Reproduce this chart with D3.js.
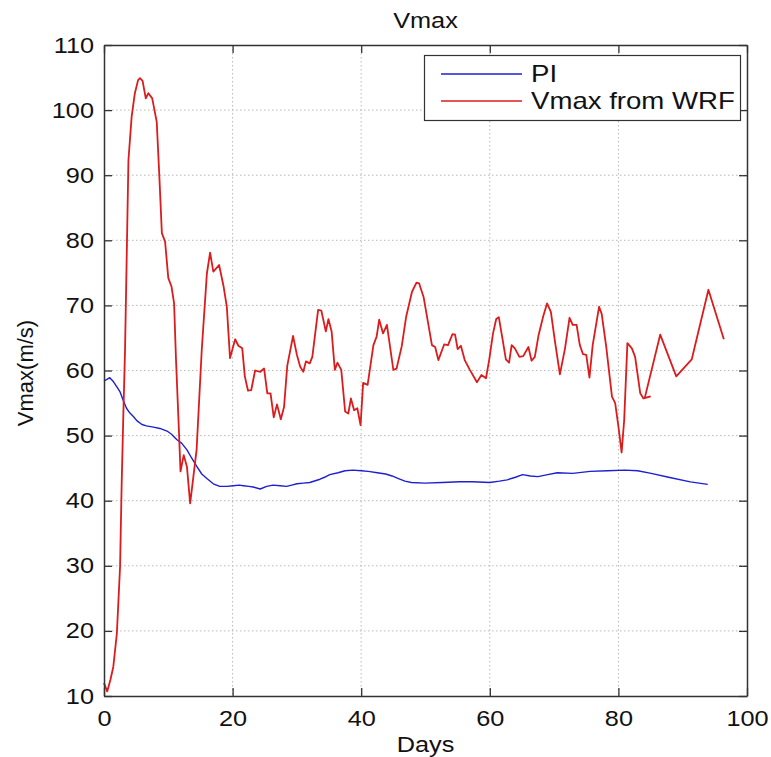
<!DOCTYPE html>
<html>
<head>
<meta charset="utf-8">
<script src="https://cdn.jsdelivr.net/npm/d3@7"></script>
<style>
  html, body { margin: 0; padding: 0; background: #fff; }
  svg { display: block; }
  text { font-family: "Liberation Sans", Arial, Helvetica, sans-serif; fill: #111; }
</style>
</head>
<body>
<svg id="chart" width="771" height="757"></svg>
<script>
// Potential intensity (PI) over the run, in days
const piDays = [0, 0.4, 0.9, 1.45, 2.0, 2.5, 3.0, 3.5, 4.0, 4.6, 5.1, 5.9, 6.6, 7.7, 8.7, 9.8, 10.5, 11.3, 12.1, 12.9,
  13.6, 14.4, 15.2, 16.0, 17.0, 18.0, 19.1, 20.1, 21.0, 21.7, 22.5, 23.2, 24.3, 25.3, 26.3, 27.4, 28.4, 29.2, 30.0, 31.0,
  32.0, 33.6, 34.3, 35.1, 36.4, 37.5, 38.7, 40.0, 41.1, 42.5, 43.8, 44.8, 45.8, 46.8, 47.8, 49.9, 52.6, 55.3, 57.3, 60.0,
  61.5, 62.7, 64.0, 65.1, 66.3, 67.5, 69.0, 70.5, 72.9, 75.6, 78.3, 81.0, 83.0, 85.1, 87.8, 91.2, 93.9];
const piVals = [58.4, 58.6, 58.9, 58.3, 57.5, 56.7, 55.4, 54.2, 53.5, 52.9, 52.3, 51.7, 51.5, 51.3, 51.1, 50.7, 50.2, 49.4, 48.8, 47.8,
  46.6, 45.3, 44.1, 43.4, 42.6, 42.2, 42.2, 42.3, 42.4, 42.3, 42.2, 42.1, 41.8, 42.2, 42.4, 42.3, 42.2, 42.4, 42.6, 42.7,
  42.8, 43.3, 43.6, 44.0, 44.3, 44.6, 44.7, 44.6, 44.5, 44.3, 44.1, 43.8, 43.4, 43.0, 42.8, 42.7, 42.8, 42.9, 42.9, 42.8,
  43.0, 43.2, 43.6, 44.0, 43.8, 43.7, 44.0, 44.3, 44.2, 44.5, 44.6, 44.7, 44.6, 44.2, 43.6, 42.9, 42.5];

// Maximum wind speed simulated by WRF
const wrfDays = [0, 0.5, 1.0, 1.45, 2.0, 2.5, 2.75, 3.0, 3.27, 3.8, 4.3, 4.8, 5.3, 5.6, 6.0, 6.5, 6.9, 7.5, 8.2, 8.6,
  9.0, 9.5, 10.0, 10.5, 10.9, 11.2, 11.6, 11.9, 12.4, 12.9, 13.4, 13.9, 14.4, 15.2, 16.0, 16.5, 17.0, 17.9, 18.6, 19.1,
  19.6, 20.4, 20.9, 21.5, 21.9, 22.4, 22.9, 23.5, 24.3, 24.9, 25.4, 25.9, 26.4, 26.9, 27.5, 28.0, 28.5, 29.4, 30.0, 30.5,
  31.0, 31.4, 32.0, 32.4, 33.3, 33.8, 34.5, 34.9, 35.4, 35.9, 36.3, 36.9, 37.5, 38.0, 38.4, 38.9, 39.4, 39.9, 40.3, 41.0,
  41.9, 42.4, 42.8, 43.4, 44.0, 45.0, 45.5, 46.3, 47.0, 47.9, 48.6, 49.0, 49.7, 51.0, 51.5, 52.0, 52.9, 53.5, 54.2, 54.6,
  55.0, 55.5, 56.1, 56.9, 58.0, 58.7, 59.4, 59.9, 60.5, 61.0, 61.4, 62.0, 62.5, 63.0, 63.4, 63.9, 64.6, 65.2, 66.0, 66.5,
  67.0, 67.6, 68.3, 68.9, 69.5, 70.1, 70.9, 71.7, 72.4, 72.9, 73.5, 74.0, 74.5, 75.0, 75.5, 76.0, 77.0, 77.4, 78.1, 79.0,
  79.5, 80.0, 80.5, 80.9, 81.4, 82.1, 82.6, 83.4, 83.9, 84.9, 84.1, 86.5, 89.0, 91.4, 94.0, 96.4];
const wrfVals = [12.0, 10.7, 12.5, 14.5, 19.6, 29.9, 42.7, 52.9, 63.1, 92.3, 99.0, 102.6, 104.6, 104.9, 104.5, 101.8, 102.6, 101.8, 98.2, 90.0,
  81.1, 79.8, 74.2, 72.9, 70.3, 61.6, 52.0, 44.5, 47.0, 45.2, 39.6, 43.7, 47.8, 63.1, 74.9, 78.1, 75.2, 76.2, 72.9, 69.8,
  61.9, 64.8, 63.8, 63.4, 59.1, 56.9, 57.0, 60.0, 59.8, 60.3, 56.5, 56.5, 52.8, 54.8, 52.5, 54.4, 60.7, 65.3, 62.4, 60.6,
  59.8, 61.4, 61.1, 62.1, 69.3, 69.2, 66.0, 67.9, 66.0, 60.1, 61.2, 60.1, 53.7, 53.4, 55.7, 53.9, 54.2, 51.6, 58.1, 57.8,
  63.9, 65.2, 67.8, 65.7, 67.0, 60.1, 60.3, 63.7, 68.3, 72.1, 73.5, 73.4, 71.3, 63.9, 63.6, 61.6, 64.0, 63.9, 65.6, 65.5,
  63.3, 63.8, 61.6, 60.1, 58.2, 59.3, 58.8, 61.6, 65.7, 67.9, 68.2, 64.7, 61.7, 61.2, 63.9, 63.4, 62.1, 62.2, 63.6, 61.5,
  62.1, 65.5, 68.3, 70.3, 69.0, 64.7, 59.4, 63.4, 68.1, 67.0, 67.0, 63.9, 62.5, 62.4, 58.9, 63.9, 69.8, 68.7, 63.7, 56.0,
  55.0, 51.4, 47.4, 52.4, 64.2, 63.4, 62.1, 56.5, 55.7, 56.0, 55.8, 65.5, 59.1, 61.7, 72.4, 64.8];

const xTicks = [0, 20, 40, 60, 80, 100];
const yTicks = [10, 20, 30, 40, 50, 60, 70, 80, 90, 100, 110];
const seriesNames = ["PI", "Vmax from WRF"];
const seriesColors = ["#1f1fd0", "#dc1c1c"];

const plotLeft = 104, plotRight = 747, plotTop = 45, plotBottom = 696;
// horizontal widening applied to upright text
const textStretch = 1.15;

const svg = d3.select("#chart");
const x = d3.scaleLinear().domain([0, 100]).range([plotLeft, plotRight]);
const y = d3.scaleLinear().domain([10, 110]).range([plotBottom, plotTop]);

// dotted grid
const grid = svg.append("g").attr("stroke", "#b8b8b8").attr("stroke-width", 1).attr("stroke-dasharray", "1.5,2.5");
grid.selectAll("line.gx").data(xTicks.slice(1, -1)).join("line")
  .attr("x1", d => x(d)).attr("x2", d => x(d)).attr("y1", plotTop).attr("y2", plotBottom);
grid.selectAll("line.gy").data(yTicks.slice(1, -1)).join("line")
  .attr("x1", plotLeft).attr("x2", plotRight).attr("y1", d => y(d)).attr("y2", d => y(d));

// series
const line = d3.line().x(d => x(d[0])).y(d => y(d[1]));
svg.append("path").datum(piDays.map((d, i) => [d, piVals[i]]))
  .attr("fill", "none").attr("stroke", seriesColors[0]).attr("stroke-width", 1.4)
  .attr("stroke-linejoin", "round").attr("d", line);
svg.append("path").datum(wrfDays.map((d, i) => [d, wrfVals[i]]))
  .attr("fill", "none").attr("stroke", seriesColors[1]).attr("stroke-width", 1.8)
  .attr("stroke-linejoin", "round").attr("d", line);

// axes on all four sides with inward ticks
function styleAxis(g) {
  g.select(".domain").attr("stroke", "#333").attr("stroke-width", 1.5);
  g.selectAll(".tick line").attr("stroke", "#333").attr("stroke-width", 1.3);
}
const gB = svg.append("g").attr("transform", `translate(0,${plotBottom})`)
  .call(d3.axisBottom(x).tickValues(xTicks).tickSize(-8).tickSizeOuter(0).tickPadding(14));
const gL = svg.append("g").attr("transform", `translate(${plotLeft},0)`)
  .call(d3.axisLeft(y).tickValues(yTicks).tickSize(-8).tickSizeOuter(0).tickPadding(10));
const gT = svg.append("g").attr("transform", `translate(0,${plotTop})`)
  .call(d3.axisTop(x).tickValues(xTicks).tickSize(-8).tickSizeOuter(0).tickFormat(""));
const gR = svg.append("g").attr("transform", `translate(${plotRight},0)`)
  .call(d3.axisRight(y).tickValues(yTicks).tickSize(-8).tickSizeOuter(0).tickFormat(""));
[gB, gL, gT, gR].forEach(styleAxis);

gB.selectAll(".tick text").attr("font-size", 22).attr("fill", "#111")
  .attr("transform", function () { return `translate(0,${+this.getAttribute("y")}) scale(${textStretch},1)`; })
  .attr("y", 0);
gL.selectAll(".tick text").attr("font-size", 22).attr("fill", "#111")
  .attr("transform", function () { return `translate(${+this.getAttribute("x")},0) scale(${textStretch},1)`; })
  .attr("x", 0);
svg.selectAll(".tick text").style("font-family", '"Liberation Sans", Arial, sans-serif');

// titles
svg.append("text").attr("transform", `translate(${(plotLeft + plotRight) / 2},28) scale(${textStretch},1)`)
  .attr("text-anchor", "middle").attr("font-size", 22).text("Vmax");
svg.append("text").attr("transform", `translate(${(plotLeft + plotRight) / 2},752) scale(${textStretch},1)`)
  .attr("text-anchor", "middle").attr("font-size", 22).text("Days");
svg.append("text").attr("transform", `translate(33,373) rotate(-90)`)
  .attr("text-anchor", "middle").attr("font-size", 22).text("Vmax(m/s)");

// legend
const lg = svg.append("g");
lg.append("rect").attr("x", 424.5).attr("y", 55.5).attr("width", 316).attr("height", 65)
  .attr("fill", "#fff").attr("stroke", "#333").attr("stroke-width", 1.2);
seriesNames.forEach((name, i) => {
  const ly = 74 + i * 27;
  lg.append("line").attr("x1", 441).attr("x2", 522).attr("y1", ly).attr("y2", ly)
    .attr("stroke", seriesColors[i]).attr("stroke-width", i ? 1.6 : 1.3);
  lg.append("text").attr("transform", `translate(531,${ly + 8}) scale(1.2,1)`)
    .attr("font-size", 23).text(name);
});
</script>
</body>
</html>
